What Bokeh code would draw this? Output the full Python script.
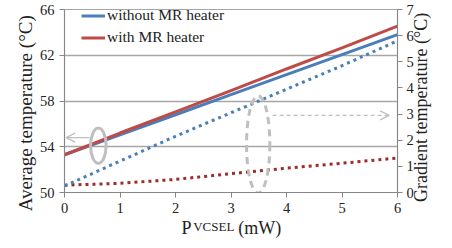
import math
from bokeh.plotting import figure
from bokeh.models import (Range1d, LinearAxis, FixedTicker, Arrow, OpenHead,
                          Legend, LegendItem)
from bokeh.embed import file_html
from bokeh.resources import INLINE

# ---- data ----
power = [0, 1, 2, 3, 4, 5, 6]
avg_without = [53.3, 55.05, 56.8, 58.55, 60.3, 62.05, 63.8]
avg_with = [53.3, 55.2, 57.05, 58.9, 60.8, 62.65, 64.55]
grad_without = [0.25, 1.2, 2.15, 3.05, 3.95, 4.85, 5.8]
grad_with = [0.28, 0.35, 0.5, 0.72, 0.93, 1.12, 1.32]
left_ticks = [50, 54, 58, 62, 66]
right_ticks = [0, 1, 2, 3, 4, 5, 6, 7]
x_ticks = [0, 1, 2, 3, 4, 5, 6]
left_title = "Average temperature (°C)"
right_title = "Gradient temperature (°C)"

BLUE = "#4A7EBB"
RED = "#BE4B48"
DRED = "#9B2D2A"
GREY = "#BFBFBF"
AXC = "#868686"
TXT = "#222222"
FONT = "Liberation Serif"

p = figure(width=444, height=240, output_backend="svg", toolbar_location=None,
           x_range=Range1d(0, 6), y_range=Range1d(50, 66),
           min_border_left=64, min_border_right=44, min_border_top=9, min_border_bottom=46)
p.extra_y_ranges = {"right": Range1d(0, 7)}
p.outline_line_color = "#A6A6A6"
p.outline_line_width = 1.2
p.background_fill_color = "white"
p.border_fill_color = "white"

p.xgrid.visible = False
p.ygrid.ticker = FixedTicker(ticks=left_ticks)
p.ygrid.grid_line_color = "#A6A6A6"
p.ygrid.grid_line_width = 1.3

def style_axis(ax, ticks):
    ax.ticker = FixedTicker(ticks=ticks)
    ax.axis_line_color = AXC
    ax.major_tick_line_color = AXC
    ax.major_tick_out = 5
    ax.major_tick_in = 0
    ax.minor_tick_line_color = None
    ax.major_label_text_font = FONT
    ax.major_label_text_font_size = "14.5px"
    ax.major_label_text_color = TXT

style_axis(p.xaxis[0], x_ticks)
p.xaxis[0].major_label_standoff = 5
style_axis(p.yaxis[0], left_ticks)
p.yaxis[0].major_label_standoff = 5

ry = LinearAxis(y_range_name="right")
style_axis(ry, right_ticks)
ry.major_label_standoff = 4
p.add_layout(ry, "right")

# ---- titles drawn as label-only axes (allows exact placement / mixed sizes) ----
def label_axis(ticks, overrides, size, standoff, **kw):
    ax = LinearAxis(ticker=FixedTicker(ticks=ticks), **kw)
    ax.major_label_overrides = overrides
    ax.axis_line_color = None
    ax.major_tick_line_color = None
    ax.minor_tick_line_color = None
    ax.major_tick_out = 0
    ax.major_tick_in = 0
    ax.major_label_standoff = standoff
    ax.major_label_text_font = FONT
    ax.major_label_text_font_size = size
    ax.major_label_text_color = TXT
    return ax

lt = label_axis([60.4], {60.4: left_title}, "19px", 11)
lt.major_label_orientation = math.pi / 2
p.add_layout(lt, "left")

rt = label_axis([0.58], {0.58: right_title}, "18px", 5, y_range_name="right")
rt.major_label_orientation = math.pi / 2
p.add_layout(rt, "right")

p.add_layout(label_axis([2.69], {2.69: "VCSEL"}, "13px", 3), "below")
p.add_layout(label_axis([2.2, 3.52], {2.2: "P", 3.52: "(mW)"}, "18px", -19), "below")

# ---- data lines ----
p.line(power, grad_with, y_range_name="right", line_color=DRED, line_width=3,
       line_dash="3 4")
p.line(power, grad_without, y_range_name="right", line_color=BLUE, line_width=3,
       line_dash="3 4")
r_without = p.line(power, avg_without, line_color=BLUE, line_width=3)
r_with = p.line(power, avg_with, line_color=RED, line_width=3)

# ---- annotations ----
p.ellipse(x=[0.61], y=[54.1], width=[0.28], height=[3.1], fill_alpha=0,
          line_color=GREY, line_width=3)
p.ellipse(x=[3.49], y=[54.2], width=[0.42], height=[8.5], fill_alpha=0,
          line_color=GREY, line_width=3, line_dash="7 5")
p.add_layout(Arrow(end=OpenHead(size=9, line_color=GREY, line_width=1.2),
                   x_start=0.45, y_start=54.8, x_end=0.03, y_end=54.8,
                   line_color=GREY, line_width=1.2))
p.add_layout(Arrow(end=OpenHead(size=9, line_color=GREY, line_width=1.2),
                   x_start=3.75, y_start=2.95, x_end=5.85, y_end=2.95,
                   y_range_name="right",
                   line_color=GREY, line_width=1.2, line_dash="4 3"))

legend = Legend(items=[LegendItem(label="without MR heater", renderers=[r_without]),
                       LegendItem(label="with MR heater", renderers=[r_with])])
legend.background_fill_alpha = 0
legend.border_line_alpha = 0
legend.margin = 0
legend.padding = 0
legend.label_text_font = FONT
legend.label_text_font_size = "15.5px"
legend.label_text_color = TXT
legend.glyph_width = 24
legend.glyph_height = 15
legend.label_height = 15
legend.spacing = 4
legend.label_standoff = 2
legend.location = (17, 146)
p.add_layout(legend)

open("out.html", "w").write(file_html(p, INLINE))
